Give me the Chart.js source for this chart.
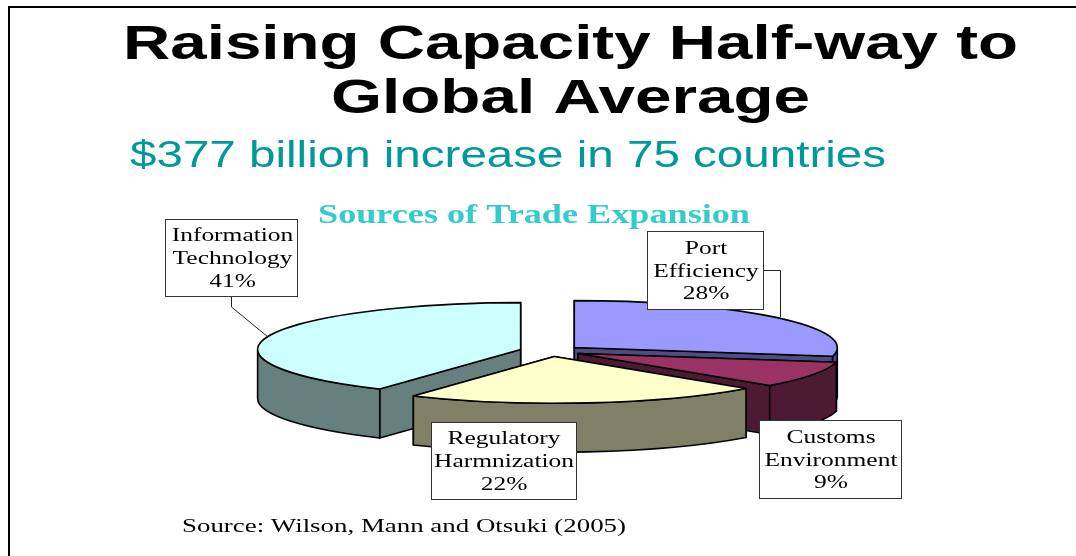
<!DOCTYPE html>
<html>
<head>
<meta charset="utf-8">
<style>html,body{margin:0;padding:0;background:#fff}canvas{display:block}</style>
<script src="https://cdn.jsdelivr.net/npm/chart.js@4"></script>
</head>
<body>
<canvas id="c" width="1076" height="556"></canvas>
<script>
const categories = ['Port Efficiency', 'Customs Environment', 'Regulatory Harmnization', 'Information Technology'];
const shares = [28, 9, 22, 41];
const topColors = ['#9999FF', '#993366', '#FFFFCC', '#CCFFFF'];
const wallColors = ['#4D4D80', '#4D1A33', '#808066', '#668080'];
const titleLines = ['Raising Capacity Half-way to', 'Global Average'];
const subtitleText = '$377 billion increase in 75 countries';
const chartTitleText = 'Sources of Trade Expansion';
const sourceText = 'Source: Wilson, Mann and Otsuki (2005)';

const TILT = 0.178, RADIUS = 263, DEPTH = 49, EXPLODE = 31, CY = 351;
const drawOrder = [0, 3, 1, 2];
const boxes = [
  {x0:647.5, y0:231.5, x1:763.5, y1:309.5, cx:706, base:[253.5,276.5,299]},
  {x0:759.5, y0:420.5, x1:901.5, y1:498.5, cx:831, base:[443,466,488]},
  {x0:431.5, y0:422.5, x1:576.5, y1:499.5, cx:504, base:[444,467,489.5]},
  {x0:165.5, y0:219.5, x1:297.5, y1:296.5, cx:232.5, base:[241,264,286.5]}
];
const leaders = [
  [[763.5,270.5],[780.5,270.5],[780.5,317]],
  null, null,
  [[231.5,297],[231.5,307],[268,337]]
];

function fitText(ctx, text, cx, base, font, color, width, sx) {
  ctx.save();
  ctx.font = font;
  ctx.fillStyle = color;
  ctx.textAlign = 'center';
  ctx.textBaseline = 'alphabetic';
  const s = sx || width / ctx.measureText(text).width;
  ctx.translate(cx, base);
  ctx.scale(s, 1);
  ctx.fillText(text, 0, 0);
  ctx.restore();
}

const pie3d = {
  id: 'pie3d',
  beforeDatasetsDraw(chart) {
    const ctx = chart.ctx;
    const arcs = chart.getDatasetMeta(0).data;
    drawOrder.forEach(i => {
      const el = arcs[i];
      const a = el.startAngle, b = el.endAngle, mid = (a + b) / 2;
      const cx = el.x + EXPLODE * Math.cos(mid);
      const cy = CY + EXPLODE * Math.sin(mid) * TILT;
      const rx = el.outerRadius, ry = rx * TILT;
      const rim = t => [cx + rx * Math.cos(t), cy + ry * Math.sin(t)];
      ctx.save();
      ctx.lineJoin = 'round';
      ctx.lineWidth = 1.6;
      ctx.strokeStyle = '#000';
      ctx.fillStyle = wallColors[i];
      [a, b].sort((p, q) => rim(p)[1] - rim(q)[1]).forEach(t => {
        const p = rim(t);
        ctx.beginPath();
        ctx.moveTo(cx, cy);
        ctx.lineTo(p[0], p[1]);
        ctx.lineTo(p[0], p[1] + DEPTH);
        ctx.lineTo(cx, cy + DEPTH);
        ctx.closePath();
        ctx.fill();
        ctx.stroke();
      });
      const v0 = Math.max(a, 0), v1 = Math.min(b, Math.PI);
      if (v1 > v0) {
        ctx.beginPath();
        ctx.ellipse(cx, cy, rx, ry, 0, v0, v1);
        ctx.ellipse(cx, cy + DEPTH, rx, ry, 0, v1, v0, true);
        ctx.closePath();
        ctx.fill();
        ctx.stroke();
      }
      ctx.save();
      ctx.translate(cx, cy);
      ctx.scale(1, TILT);
      ctx.translate(-el.x, -el.y);
      el.draw(ctx);
      ctx.beginPath();
      ctx.moveTo(el.x, el.y);
      ctx.arc(el.x, el.y, rx, a, b);
      ctx.closePath();
      ctx.restore();
      ctx.stroke();
      ctx.restore();
    });
    return false;
  },
  afterDraw(chart) {
    const ctx = chart.ctx;
    ctx.save();
    ctx.fillStyle = '#000';
    ctx.fillRect(8, 6, 1068, 2);
    ctx.fillRect(8, 6, 2, 550);
    fitText(ctx, titleLines[0], 570.5, 59, 'bold 49px "Liberation Sans"', '#000', 895);
    fitText(ctx, titleLines[1], 570.5, 113, 'bold 49px "Liberation Sans"', '#000', 479);
    fitText(ctx, subtitleText, 508, 166.5, '36px "Liberation Sans"', '#009999', 756);
    fitText(ctx, chartTitleText, 534, 223, 'bold 27px "Liberation Serif"', '#33CCCC', 432);
    fitText(ctx, sourceText, 404, 532, '19px "Liberation Serif"', '#000', 444);
    ctx.strokeStyle = '#222';
    ctx.lineWidth = 1;
    leaders.forEach(l => {
      if (!l) return;
      ctx.beginPath();
      l.forEach((p, j) => j ? ctx.lineTo(p[0], p[1]) : ctx.moveTo(p[0], p[1]));
      ctx.stroke();
    });
    categories.forEach((name, i) => {
      const b = boxes[i];
      ctx.fillStyle = '#fff';
      ctx.strokeStyle = '#333';
      ctx.lineWidth = 1;
      ctx.fillRect(b.x0, b.y0, b.x1 - b.x0, b.y1 - b.y0);
      ctx.strokeRect(b.x0, b.y0, b.x1 - b.x0, b.y1 - b.y0);
      const lines = name.split(' ').concat(shares[i] + '%');
      lines.forEach((t, j) => fitText(ctx, t, b.cx, b.base[j], '19px "Liberation Serif"', '#000', 0, 1.34));
    });
    ctx.restore();
  }
};

new Chart(document.getElementById('c'), {
  type: 'pie',
  data: {
    labels: categories,
    datasets: [{ data: shares, backgroundColor: topColors, borderWidth: 0 }]
  },
  options: {
    responsive: false,
    animation: false,
    events: [],
    radius: RADIUS,
    layout: { padding: { left: 24.8 } },
    plugins: { legend: { display: false }, tooltip: { enabled: false } }
  },
  plugins: [pie3d]
});
</script>
</body>
</html>
